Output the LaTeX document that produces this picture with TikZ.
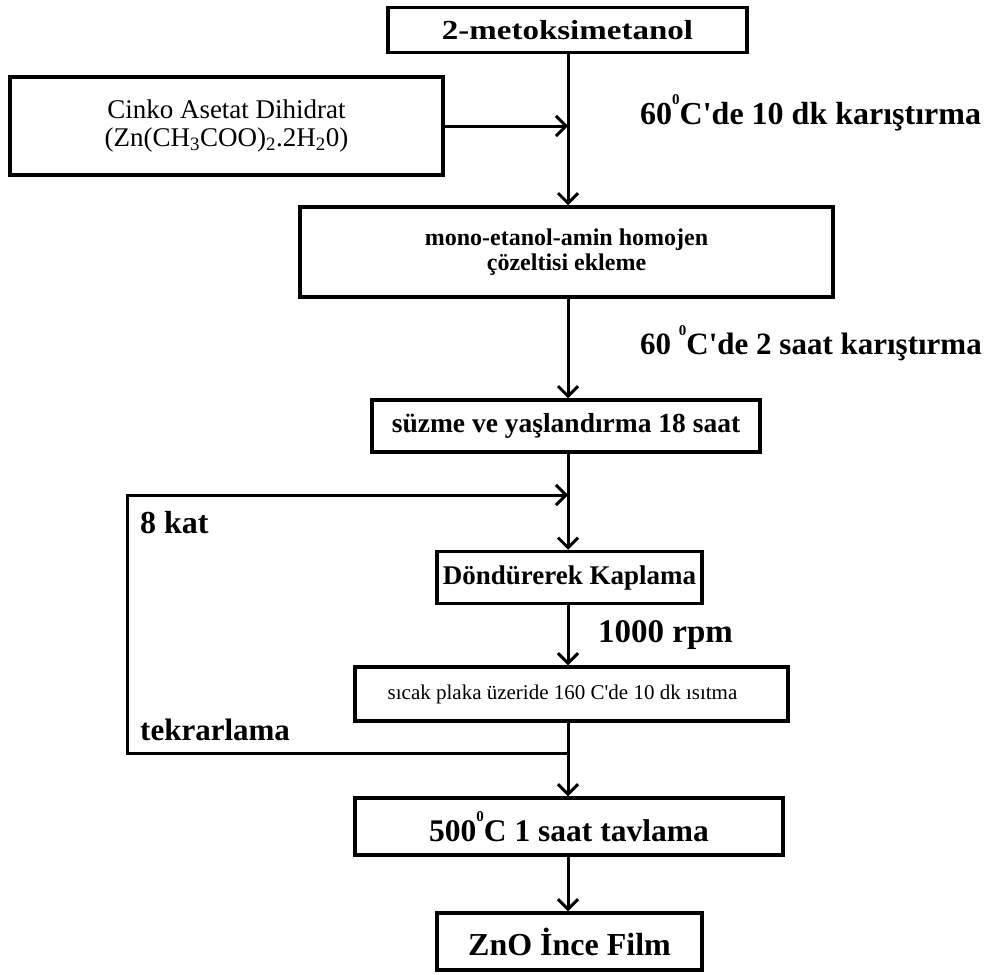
\documentclass[tikz,border=0pt]{standalone}
\usepackage{fontspec}
\setmainfont{Liberation Serif}[Ligatures=TeXOff]
\newfontfamily\widef{Liberation Serif}[Ligatures=TeXOff,FakeStretch=1.2]
\usetikzlibrary{arrows.meta}
\newcommand\dgz[1]{\raisebox{0.62em}{\fontsize{#1}{#1}\selectfont 0}}
\begin{document}
\begin{tikzpicture}[x=1pt,y=-1pt,
  box/.style={draw,line width=3.5pt,rectangle,inner sep=0pt,align=center,font=\bfseries},
  conn/.style={line width=3pt},
  arr/.style={conn,-{Straight Barb[length=10pt,width=20pt,line width=3pt]}},
  lab/.style={anchor=west,inner sep=0pt,font=\bfseries}]
\useasboundingbox (0,0) rectangle (992,974);
\coordinate (m) at (568,0);
% boxes
\node[box,minimum width=359pt,minimum height=45pt,font=\widef\fontsize{27.5}{30}\selectfont\bfseries] (b1) at (567.5,30) {2-metoksimetanol};
\node[box,minimum width=433pt,minimum height=98pt,font=\fontsize{27}{28}\selectfont] (cz) at (226.5,126)
  {Cinko Asetat Dihidrat\\(Zn(CH\textsubscript{3}COO)\textsubscript{2}.2H\textsubscript{2}0)};
\node[box,minimum width=533pt,minimum height=90pt,font=\fontsize{24}{25}\selectfont\bfseries] (b3) at (566.5,252)
  {mono-etanol-amin homojen\\çözeltisi ekleme};
\node[box,minimum width=388pt,minimum height=52pt,font=\fontsize{27.5}{30}\selectfont\bfseries] (b4) at (566,426) {süzme ve yaşlandırma 18 saat};
\node[box,minimum width=265pt,minimum height=52pt,font=\fontsize{27}{30}\selectfont\bfseries] (b5) at (569.5,577.5) {Döndürerek Kaplama};
\node[box,minimum width=433pt,minimum height=54pt,font=\fontsize{21}{24}\selectfont] (b6) at (571.5,694) {\hspace*{-18pt}sıcak plaka üzeride 160 C'de 10 dk ısıtma};
\node[box,minimum width=428pt,minimum height=57pt,font=\fontsize{31.5}{34}\selectfont\bfseries] (b7) at (569,826.5) {500\dgz{15}C 1 saat tavlama};
\node[box,minimum width=265pt,minimum height=57pt,font=\fontsize{32}{34}\selectfont\bfseries] (b8) at (569.5,941.5) {ZnO İnce Film};
% labels
\node[lab,font=\fontsize{32}{34}\selectfont\bfseries] (l1) at (640,113) {60\dgz{15}C'de 10 dk karıştırma};
\node[lab,font=\fontsize{31}{34}\selectfont\bfseries] (l2) at (640,343) {60 \dgz{15}C'de 2 saat karıştırma};
\node[lab,font=\fontsize{32}{34}\selectfont\bfseries] (l3) at (140,523) {8 kat};
\node[lab,font=\fontsize{33}{36}\selectfont\bfseries] (l4) at (598,635) {1000 rpm};
\node[lab,font=\fontsize{31}{34}\selectfont\bfseries] (l5) at (140,730) {tekrarlama};
% connectors
\coordinate (j) at (568,753);
\coordinate (t) at (568,495);
\coordinate (lb) at (127,753);
\coordinate (lt) at (127,495);
\draw[arr] (b1.south -| m) -- (b3.north -| m);
\draw[arr] (cz.east) -- (cz.east -| m);
\draw[arr] (b3.south -| m) -- (b4.north -| m);
\draw[arr] (b4.south -| m) -- (b5.north -| m);
\draw[arr] (b5.south -| m) -- (b6.north -| m);
\draw[arr] (b6.south -| m) -- (b7.north -| m);
\draw[arr] (b7.south -| m) -- (b8.north -| m);
\draw[arr] (j) -- (lb) -- (lt) -- (t);
\end{tikzpicture}
\end{document}
